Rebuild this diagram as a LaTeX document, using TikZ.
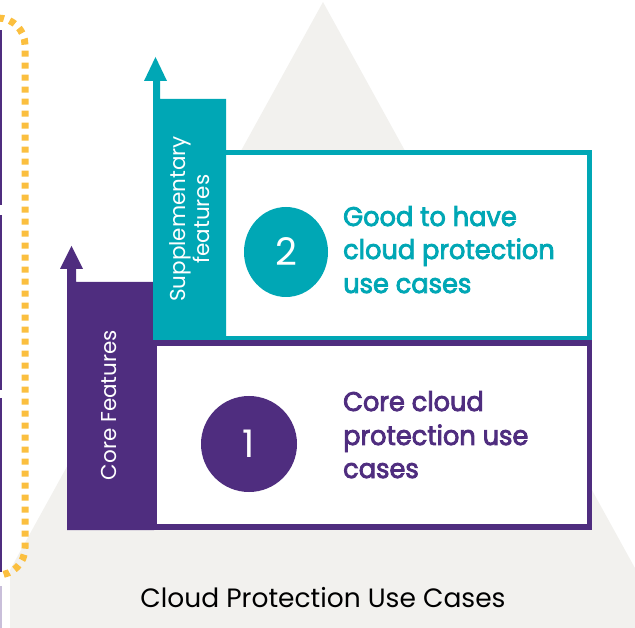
\documentclass[tikz,border=0pt]{standalone}
\usepackage{fontspec}
\setmainfont{Poppins}
\newfontfamily\headfont{Poppins}[FakeStretch=0.95, FakeBold=3]
\newfontfamily\labelfont{Poppins}
\definecolor{corepurple}{HTML}{4F2D7F}
\definecolor{suppteal}{HTML}{00A7B5}
\definecolor{mistgray}{HTML}{F2F1EE}
\definecolor{dotyellow}{HTML}{FBBF3F}
\definecolor{lavender}{HTML}{C9BFDA}
\tikzset{
  headline/.style={anchor=base west, inner sep=0pt, font=\headfont\fontsize{27}{30}\selectfont},
  sidelabel/.style={rotate=90, text=white, inner sep=0pt, align=center, font=\labelfont\fontsize{21.5}{24}\selectfont},
  numdisc/.style={ellipse, inner sep=0pt, text=white, font=\fontsize{38}{40}\selectfont},
}
\usetikzlibrary{shapes.geometric}
\begin{document}
\begin{tikzpicture}[x=1pt,y=-1pt]
\useasboundingbox (0,0) rectangle (635,628);

% background pyramid
\begin{scope}
  \clip (10,0) rectangle (635,628);
  \fill[mistgray] (323,2) -- (668,628) -- (-22,628) -- cycle;
\end{scope}

% edge marks of the neighbouring panel
\fill[corepurple] (0,30) rectangle (2,205);
\fill[corepurple] (0,215) rectangle (2,390);
\fill[corepurple] (0,398) rectangle (2,572);
\fill[lavender] (0,586) rectangle (1.5,628);

% dotted bracket
\draw[dotyellow, line width=7pt, dash pattern=on 6pt off 6pt]
  (-2,18) arc[start angle=90, end angle=0, x radius=27, y radius=-27]
  -- (25,548) arc[start angle=0, end angle=-90, x radius=27, y radius=-27];

% boxes
\draw[suppteal, line width=4.5pt, fill=white] (160,152.5) rectangle (589.5,338);
\draw[corepurple, line width=5.5pt, fill=white] (154,343) rectangle (589.5,527);

% core features column with arrow
\fill[corepurple] (67,530) -- (67,269) -- (60,269) -- (71.5,246) -- (83,269)
  -- (76,269) -- (76,282) -- (154,282) -- (154,530) -- cycle;

% supplementary column with arrow
\fill[suppteal] (153,340) -- (153,81) -- (144,81) -- (155.5,57) -- (167,81)
  -- (160,81) -- (160,99) -- (226,99) -- (226,340) -- cycle;

% column labels
\node[sidelabel] (corelbl) at (109,405) {Core Features};
\node[sidelabel] (supplbl) at (190,219) {Supplementary\\features};

% numbered discs
\node[numdisc, fill=suppteal, minimum width=84pt, minimum height=90pt] (n2) at (286,252) {2};
\node[numdisc, fill=corepurple, minimum width=96pt, minimum height=96pt] (n1) at (249,444) {1};

% headlines
\node[headline, text=suppteal] (t2a) at (343,226) {Good to have};
\node[headline, text=suppteal] (t2b) at (343,259) {cloud protection};
\node[headline, text=suppteal] (t2c) at (343,293) {use cases};
\node[headline, text=corepurple] (t1a) at (343,411) {Core cloud};
\node[headline, text=corepurple] (t1b) at (343,445) {protection use};
\node[headline, text=corepurple] (t1c) at (343,478) {cases};

% caption
\node[anchor=base, inner sep=0pt, font=\labelfont\fontsize{26.5}{30}\selectfont] (caption) at (323,607) {Cloud Protection Use Cases};
\end{tikzpicture}
\end{document}
